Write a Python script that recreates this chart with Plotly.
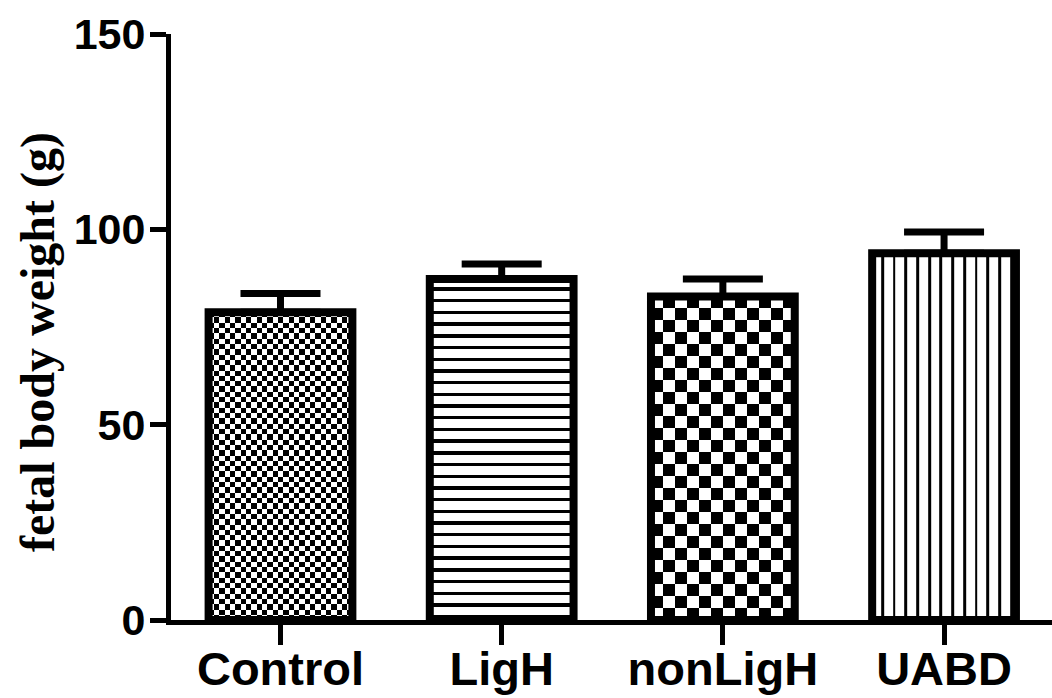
import numpy as np
import plotly.graph_objects as go

# ---- data ----
categories = ["Control", "LigH", "nonLigH", "UABD"]
means = [78.8, 87.3, 82.8, 93.9]
sem = [4.8, 3.8, 4.5, 5.4]
y_ticks = [0, 50, 100, 150]

# fill style per group: fine checker, horizontal stripes, coarse checker, vertical stripes
fill_kind = ["checker", "hstripe", "checker", "vstripe"]
fill_cell_px = [5.3, 11.7, 12.0, 11.7]   # checker cell size or stripe period
fill_line_px = [0, 3.4, 0, 2.8]          # stripe line thickness

# ---- layout geometry ----
W, H = 1052, 698
M_L, M_R, M_T, M_B = 171, 0, 34, 78
X_RANGE = [-0.495, 3.488]
Y_RANGE = [0, 150]
BAR_W = 0.65

plot_w = W - M_L - M_R
plot_h = H - M_T - M_B
px_per_x = plot_w / (X_RANGE[1] - X_RANGE[0])
px_per_y = plot_h / (Y_RANGE[1] - Y_RANGE[0])

xpos = list(range(len(categories)))


def stripe_edges(start, stop, period, line, scale):
    """Edges of alternating line/gap bands between start and stop (data units)."""
    edges, vals = [start], []
    pos = start
    on = False
    while pos < stop:
        step = (line if on else period - line) / scale
        pos = min(pos + step, stop)
        edges.append(pos)
        vals.append(1.0 if on else 0.0)
        on = not on
    return np.array(edges), np.array(vals)


fig = go.Figure()

# fills drawn as heatmaps inside each bar; the bar outline goes on top
for i, kind in enumerate(fill_kind):
    x0, x1 = xpos[i] - BAR_W / 2, xpos[i] + BAR_W / 2
    if kind == "checker":
        ncol = max(1, int(round(BAR_W * px_per_x / fill_cell_px[i])))
        cell_px = BAR_W * px_per_x / ncol
        nrow = max(1, int(round(means[i] * px_per_y / cell_px)))
        x_edges = np.linspace(x0, x1, ncol + 1)
        y_edges = np.linspace(0, means[i], nrow + 1)
        z = (np.add.outer(np.arange(nrow), np.arange(ncol)) % 2).astype(float)
    elif kind == "hstripe":
        y_edges, vals = stripe_edges(0, means[i], fill_cell_px[i],
                                     fill_line_px[i], px_per_y)
        x_edges = np.array([x0, x1])
        z = vals[::-1].reshape(-1, 1)
        y_edges = (means[i] - y_edges)[::-1]
    else:
        x_edges, vals = stripe_edges(x0, x1, fill_cell_px[i],
                                     fill_line_px[i], px_per_x)
        y_edges = np.array([0, means[i]])
        z = vals.reshape(1, -1)
    fig.add_trace(go.Heatmap(
        x=x_edges, y=y_edges, z=z,
        colorscale=[[0, "white"], [1, "black"]],
        zmin=0, zmax=1, showscale=False, zsmooth=False,
        hoverinfo="skip",
    ))

fig.add_trace(go.Bar(
    x=xpos, y=means, width=BAR_W,
    marker=dict(color="rgba(0,0,0,0)", line=dict(color="black", width=8)),
    error_y=dict(type="data", symmetric=False, array=sem,
                 arrayminus=[0] * len(sem),
                 color="black", thickness=7, width=40),
    showlegend=False,
))

fig.update_layout(
    width=W, height=H, autosize=False,
    margin=dict(l=M_L, r=M_R, t=M_T, b=M_B, pad=0),
    plot_bgcolor="white", paper_bgcolor="white",
    showlegend=False,
    xaxis=dict(
        range=X_RANGE, tickvals=xpos, ticktext=categories,
        showline=True, linecolor="black", linewidth=5,
        ticks="outside", ticklen=20, tickwidth=5, tickcolor="black",
        ticklabelstandoff=-16,
        showgrid=False, zeroline=False, automargin=False,
        tickfont=dict(family="Liberation Sans, Arial", size=47,
                      color="black", weight="bold"),
    ),
    yaxis=dict(
        range=Y_RANGE, tickvals=y_ticks,
        showline=True, linecolor="black", linewidth=5,
        ticks="outside", ticklen=16, tickwidth=5, tickcolor="black",
        ticklabelstandoff=-4,
        showgrid=False, zeroline=False, automargin=False,
        tickfont=dict(family="Liberation Sans, Arial", size=43,
                      color="black", weight="bold"),
    ),
    annotations=[dict(
        text="fetal body weight (g)",
        xref="paper", yref="paper",
        x=(38 - M_L) / plot_w, y=(H - M_B - 342) / plot_h,
        xanchor="center", yanchor="middle",
        textangle=-90, showarrow=False,
        font=dict(family="Liberation Serif, Times New Roman", size=48,
                  color="black", weight="bold"),
    )],
)

fig.write_html("out.html")
